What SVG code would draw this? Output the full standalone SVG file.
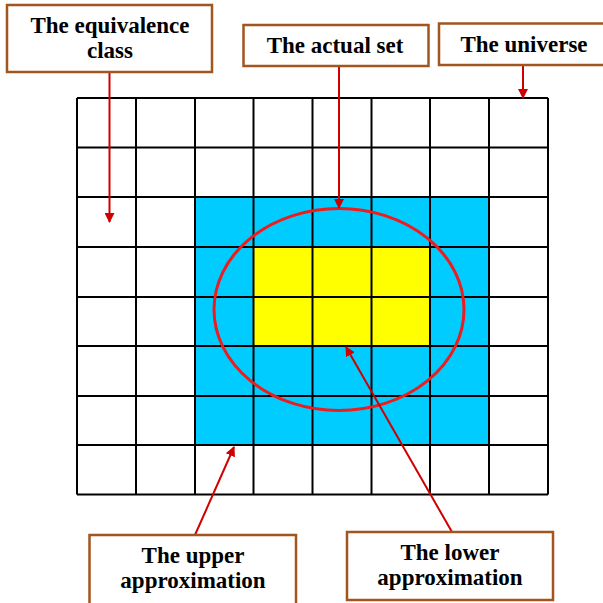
<svg xmlns="http://www.w3.org/2000/svg" width="603" height="603" viewBox="0 0 603 603">
<defs>
<style>
.box{fill:#fff;stroke:#a0561e;stroke-width:2.5}
.t{font-family:'Liberation Serif','Times New Roman',serif;font-weight:bold;font-size:23px;fill:#000;text-anchor:middle}
.g{stroke:#000;stroke-width:2;fill:none}
.c{stroke:#d00000;stroke-width:2;fill:none;marker-end:url(#ah)}
</style>
<marker id="ah" viewBox="0 0 10 10" refX="9" refY="5" markerWidth="5" markerHeight="5" orient="auto" markerUnits="strokeWidth">
<path d="M0,0 L10,5 L0,10 z" fill="#d00000"/>
</marker>
</defs>
<rect width="603" height="603" fill="#fff"/>
<g id="grid">
<rect x="195" y="197" width="294" height="248" fill="#00ccff"/>
<rect x="253.5" y="247" width="176.5" height="99" fill="#ffff00"/>
<path class="g" d="M77,98H548M77,147.5H548M77,197H548M77,247H548M77,297H548M77,346H548M77,396H548M77,445H548M77,494.5H548
M77,98V494.5M136,98V494.5M195,98V494.5M253.5,98V494.5M312.5,98V494.5M371.5,98V494.5M430,98V494.5M489,98V494.5M548,98V494.5"/>
<ellipse cx="339" cy="309.5" rx="125" ry="101" fill="none" stroke="#ee1c1c" stroke-width="3"/>
</g>
<g id="connectors">
<line class="c" x1="109.5" y1="72" x2="109.5" y2="222"/>
<line class="c" x1="339" y1="66" x2="339" y2="208"/>
<line class="c" x1="523" y1="65" x2="523" y2="98"/>
<line class="c" x1="195" y1="535" x2="234" y2="447"/>
<line class="c" x1="452" y1="532" x2="346" y2="347"/>
</g>
<g id="equivalence">
<rect class="box" x="7" y="5" width="205" height="67"/>
<text class="t" x="110" y="33">The equivalence</text>
<text class="t" x="110" y="58">class</text>
</g>
<g id="actual">
<rect class="box" x="243.5" y="25" width="185" height="41"/>
<text class="t" x="335" y="53">The actual set</text>
</g>
<g id="universe">
<rect class="box" x="439" y="23.5" width="170" height="41.5"/>
<text class="t" x="524" y="52">The universe</text>
</g>
<g id="upper">
<rect class="box" x="89.5" y="535" width="206.5" height="70"/>
<text class="t" x="193" y="563">The upper</text>
<text class="t" x="193" y="588">approximation</text>
</g>
<g id="lower">
<rect class="box" x="347" y="532" width="206" height="68"/>
<text class="t" x="450" y="560">The lower</text>
<text class="t" x="450" y="585">approximation</text>
</g>
</svg>
